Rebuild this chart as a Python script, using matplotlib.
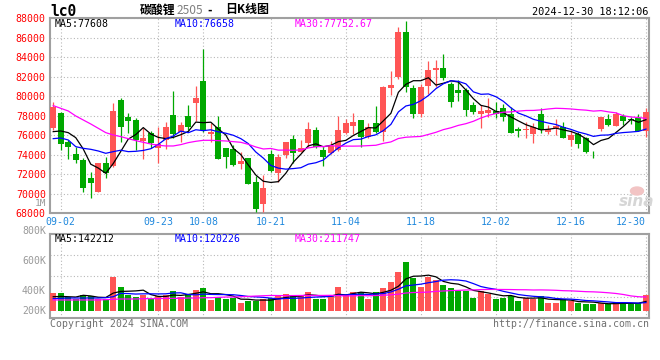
import numpy as np
import pandas as pd
import matplotlib
matplotlib.use("Agg")
import matplotlib.pyplot as plt

plt.rcParams['font.family'] = ['DejaVu Sans Mono', 'Noto Sans CJK SC']

# trading days 2024-08-30 .. 2024-12-30, exchange closed for Mid-Autumn / National Day
holidays = ['2024-09-16', '2024-09-17', '2024-10-01', '2024-10-02',
            '2024-10-03', '2024-10-04', '2024-10-07']
tick_labels = ['09-02', '09-23', '10-08', '10-21', '11-04', '11-18', '12-02', '12-16', '12-30']

opens = [76786, 78324, 75315, 74050, 73503, 71623, 70221, 73161, 72854, 79589,
         77879, 77537, 75418, 76239, 74734, 75520, 78085, 76376, 77982, 79350,
         81572, 76170, 76820, 74734, 74597, 73025, 73640, 71247, 68922, 74085,
         72102, 73982, 75623, 74324, 75179, 76546, 74495, 74153, 74495, 76273,
         76957, 77572, 75862, 77230, 76376, 80889, 82017, 86632, 80889, 78188,
         81094, 82666, 82871, 81265, 80649, 80649, 79111, 78153, 78324, 78495,
         78769, 78153, 76649, 76580, 76170, 78188, 76376, 76717, 76888, 75520,
         76102, 75760, 74016, 76649, 77674, 76991, 77982, 77674, 77743, 76444]
highs = [79384, 78427, 75520, 74837, 73640, 72273, 73161, 73811, 79316, 79863,
         78256, 77743, 76717, 76444, 76888, 77401, 80547, 77333, 79111, 81094,
         84854, 77230, 77982, 74734, 75008, 74324, 73640, 71862, 71930, 74495,
         74050, 75315, 76034, 75520, 77401, 76888, 74837, 75418, 77982, 77674,
         78256, 77572, 77230, 79042, 81094, 82598, 87145, 87726, 81162, 81230,
         83624, 83726, 84307, 81504, 81675, 80889, 79384, 79111, 79795, 79384,
         79179, 78940, 76888, 77401, 77230, 78769, 77060, 77674, 77333, 76546,
         76376, 75862, 74392, 77914, 78153, 78427, 78153, 77914, 78153, 78769]
lows = [76546, 74495, 73572, 73127, 70221, 69605, 70153, 71657, 72786, 75350,
        76205, 74495, 73572, 74734, 73127, 74563, 75760, 75350, 76546, 77504,
        76376, 75350, 73572, 72683, 72888, 72546, 70973, 68170, 68170, 72273,
        71247, 73640, 73127, 74255, 74837, 74734, 72888, 74050, 74392, 76102,
        76102, 74837, 75760, 76205, 75418, 80136, 81777, 80478, 77811, 77914,
        80205, 80991, 81675, 78940, 79521, 77982, 78188, 76786, 77914, 77811,
        77469, 76205, 75862, 75760, 75247, 76205, 76102, 76034, 75760, 74939,
        74734, 74221, 73709, 76444, 76957, 76957, 77060, 77128, 76444, 75862]
closes = [78940, 75144, 74803, 73469, 70631, 71144, 73161, 72102, 78495, 76820,
          77469, 75486, 75692, 75213, 75076, 76854, 76102, 77060, 76888, 79863,
          76546, 76376, 73572, 73811, 72956, 73401, 71007, 68444, 70631, 72341,
          73811, 75315, 74153, 74666, 76649, 74837, 73811, 74905, 76546, 77298,
          77367, 75828, 76888, 76376, 80991, 81162, 86632, 80991, 78222, 80991,
          82700, 82871, 81914, 79453, 80376, 78598, 78427, 78495, 78598, 78153,
          77914, 76273, 76444, 76649, 76854, 76546, 76615, 76991, 75760, 76034,
          75144, 74324, 73948, 77914, 77060, 78188, 77469, 77537, 76444, 78359]
# volume in thousand lots
volume = [277, 277, 205, 185, 241, 226, 179, 185, 523, 369,
          241, 205, 241, 185, 226, 241, 308, 215, 256, 318,
          354, 164, 215, 185, 200, 123, 154, 154, 185, 195,
          226, 256, 226, 226, 292, 185, 185, 236, 369, 236,
          292, 292, 185, 292, 354, 446, 600, 754, 497, 369,
          513, 472, 400, 354, 303, 303, 200, 303, 256, 185,
          200, 226, 154, 200, 185, 226, 123, 123, 185, 154,
          113, 103, 103, 113, 103, 123, 123, 103, 123, 241]

# moving averages before enough history is on screen
ma5_head = [76376, 76444, 76273, 75760]
ma10_head = [75656, 75725, 75520, 74836, 74665, 74563, 74392, 74153, 74324]
ma30_head = [79043, 78769, 78496, 77983, 77572, 77162, 76718, 76273, 76034, 75863,
             75658, 75453, 75282, 75111, 74974, 74906, 74906, 75042, 75248, 75384,
             75486, 75486, 75452, 75418, 75350, 75281, 75076, 74803, 74597]
vma5_head = [215, 220, 215, 210]
vma10_head = [185, 190, 195, 195, 195, 195, 195, 200, 215]
vma30_head = [165, 165, 165, 165, 165, 165, 165, 170, 175, 180,
              180, 180, 185, 185, 185, 190, 190, 190, 195, 195,
              200, 200, 205, 210, 210, 215, 220, 225, 230]

RED = '#ff5555'
GREEN = '#00a800'
FRAME = '#a0a0a0'
GRID = '#b8b8b8'


def moving(vals, n, head):
    out = pd.Series(vals, dtype=float).rolling(n).mean().to_numpy()
    out[:n - 1] = head
    return out


if __name__ == '__main__':
    days = pd.bdate_range('2024-08-30', '2024-12-30')
    days = days[~days.isin(pd.to_datetime(holidays))]
    day_str = list(days.strftime('%m-%d'))
    tick_pos = [day_str.index(t) for t in tick_labels]

    o = np.array(opens)
    c = np.array(closes)
    x = np.arange(len(c))
    up = c >= o
    cols = np.where(up, RED, GREEN)
    vol = np.array(volume) * 1000

    fig = plt.figure(figsize=(6.6, 3.6), dpi=100)
    W, H = 660, 360
    ax = fig.add_axes([50 / W, 1 - 213.3 / H, 599 / W, 195 / H])
    axv = fig.add_axes([50 / W, 1 - 318.3 / H, 599 / W, 84 / H])

    # candles
    ax.vlines(x, lows, highs, colors=cols, lw=0.9, zorder=3)
    body = np.maximum(np.abs(c - o), 70)
    ax.bar(x, body, bottom=np.minimum(o, c), width=0.8, color=cols, lw=0, zorder=3)

    ax.plot(x, moving(closes, 5, ma5_head), color='black', lw=0.9, zorder=4)
    ax.plot(x, moving(closes, 10, ma10_head), color='#0000ff', lw=0.9, zorder=4)
    ax.plot(x, moving(closes, 30, ma30_head), color='#ff00ff', lw=0.9, zorder=4)

    ax.set_xlim(-0.43, 79.4)
    ax.set_ylim(68000, 88000)
    ax.set_yticks(range(68000, 88001, 2000))
    ax.set_xticks(tick_pos)
    ax.set_xticklabels(tick_labels)
    ax.get_xticklabels()[-1].set_horizontalalignment('right')
    ax.tick_params(axis='y', length=0, pad=3, labelsize=7.1, labelcolor='#ff0000')
    ax.tick_params(axis='x', length=0, pad=2.5, labelsize=7.1, labelcolor='#1f88dd')
    ax.grid(True, linestyle=(0, (1, 2)), color=GRID, lw=0.8, zorder=0)

    # volume
    axv.bar(x, vol, width=0.8, color=cols, lw=0, zorder=3)
    vm = np.array(volume, dtype=float)
    axv.plot(x, moving(vm, 5, vma5_head) * 1000, color='black', lw=0.9, zorder=4)
    axv.plot(x, moving(vm, 10, vma10_head) * 1000, color='#0000ff', lw=0.9, zorder=4)
    axv.plot(x, moving(vm, 30, vma30_head) * 1000, color='#ff00ff', lw=0.9, zorder=4)
    vlo, vhi = -117000, 1175000
    axv.set_xlim(-0.43, 79.4)
    axv.set_ylim(vlo, vhi)
    axv.set_yticks([vlo + k * (vhi - vlo) / 4 for k in range(1, 4)])
    axv.set_yticklabels([])
    axv.set_xticks(tick_pos)
    axv.set_xticklabels([])
    axv.tick_params(length=0)
    axv.grid(True, linestyle=(0, (1, 2)), color=GRID, lw=0.8, zorder=0)

    for a in (ax, axv):
        for s in a.spines.values():
            s.set_color(FRAME)
            s.set_linewidth(1.5)

    def ft(px, py, s, **kw):
        fig.text(px / W, 1 - py / H, s, va='center', **kw)

    mono = dict(fontsize=7.1)
    ft(50, 11, 'lc0', fontsize=10.5, fontweight='bold')
    cjk = ['Noto Sans CJK SC', 'DejaVu Sans']
    ft(140, 10, '碳酸锂', fontsize=8.6, family=cjk, fontweight='bold')
    ft(177, 10.5, '2505', fontsize=8.6, family=cjk, color='#808080')
    ft(207, 10, '-', fontsize=8.6, family=cjk, fontweight='bold')
    ft(225, 10, '日K线图', fontsize=8.6, family=cjk, fontweight='bold')
    ft(648, 12, '2024-12-30 18:12:06', ha='right', fontsize=7.4)

    ft(55, 24, 'MA5:77608', color='black', **mono)
    ft(175, 24, 'MA10:76658', color='#0000ff', **mono)
    ft(295, 24, 'MA30:77752.67', color='#ff00ff', **mono)
    ft(55, 238.5, 'MA5:142212', color='black', **mono)
    ft(175, 238.5, 'MA10:120226', color='#0000ff', **mono)
    ft(295, 238.5, 'MA30:211747', color='#ff00ff', **mono)

    gray = '#999999'
    ft(46, 203, '1M', ha='right', color=gray, fontsize=6.8)
    for lab, py in [('800K', 231), ('600K', 261.3), ('400K', 290.7), ('200K', 310.7)]:
        ft(46, py, lab, ha='right', color=gray, **mono)
    ft(50, 324, 'Copyright 2024 SINA.COM', color='#707070', **mono)
    ft(649, 324, 'http://finance.sina.com.cn', ha='right', color='#707070', **mono)

    # sina watermark
    ft(619, 201, 'sina', fontsize=11, fontstyle='italic', fontweight='bold',
       color='#d6d6d6', family='DejaVu Sans')
    fig.patches.append(matplotlib.patches.Ellipse((637 / W, 1 - 191 / H), 13 / W, 8 / H,
                                                  transform=fig.transFigure,
                                                  color='#f2c4c4', zorder=0))

    fig.savefig('out.png', dpi=100)
